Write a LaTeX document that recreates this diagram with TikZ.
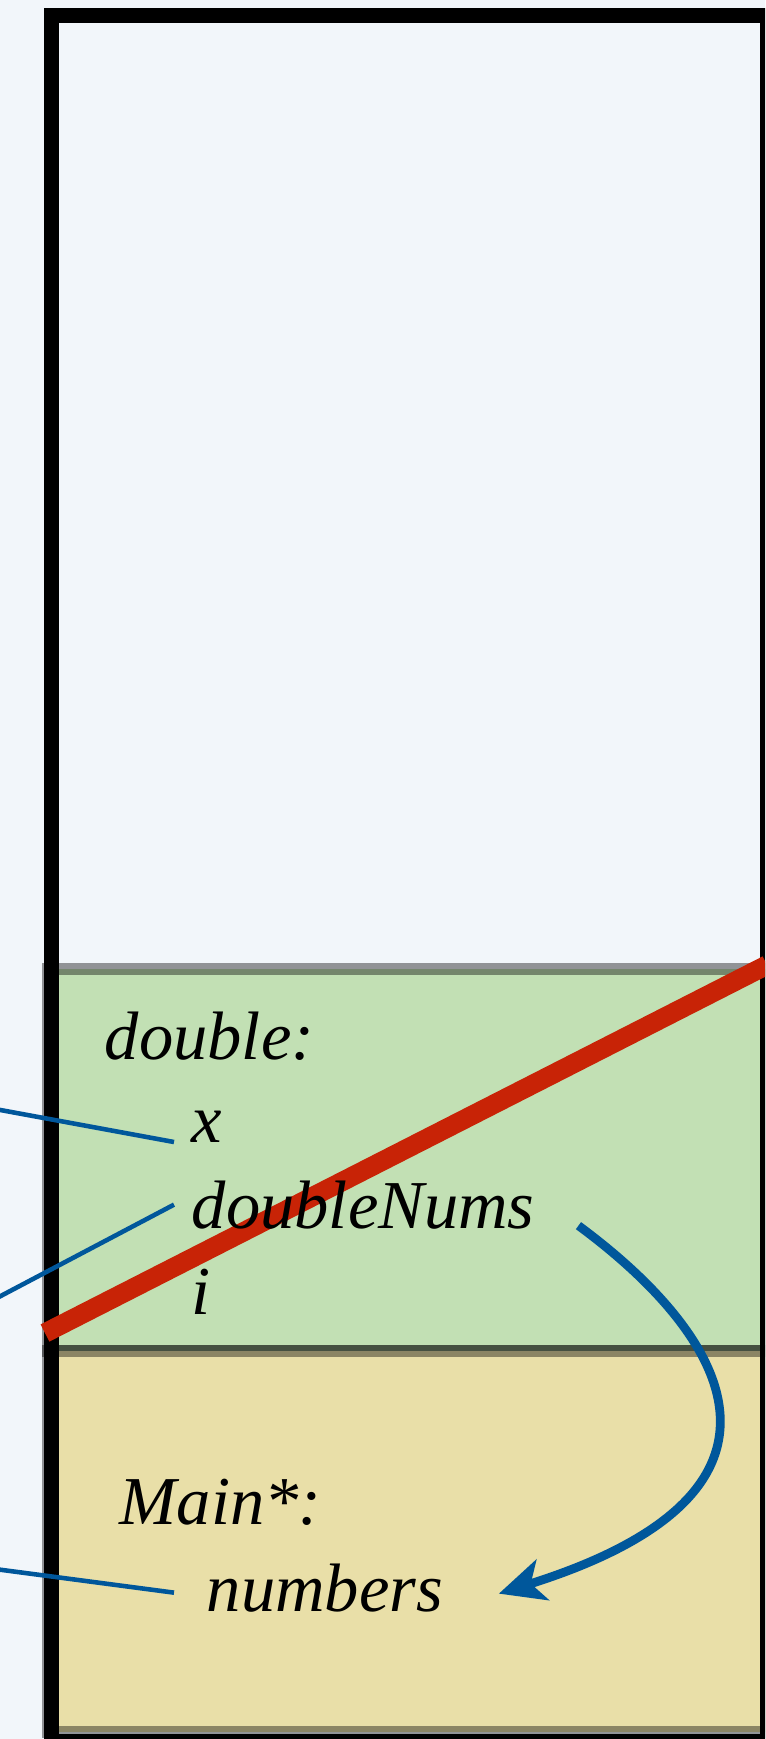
\documentclass[tikz,border=0pt]{standalone}
\usepackage{fontspec}
\setmainfont{Liberation Serif}
\usetikzlibrary{arrows.meta,calc}
\definecolor{stackbg}{HTML}{F2F6FA}
\definecolor{framegreen}{HTML}{C2E0B4}
\definecolor{frameyellow}{HTML}{E9DFA8}
\definecolor{popred}{HTML}{C82306}
\definecolor{refblue}{HTML}{00579B}
\tikzset{
  stackframe/.style={draw=black, line width=8pt},
  framebox/.style={draw=black, draw opacity=0.4, line width=6.5pt},
  varlabel/.style={font=\fontsize{39}{47}\selectfont\itshape, inner sep=10pt, anchor=base west},
  refline/.style={draw=refblue, line width=2.6pt},
  popline/.style={draw=popred, line width=11pt},
  copyedge/.style={-{Stealth[length=26pt, width=24pt, inset=7pt]}, draw=refblue, line width=5pt}
}
\begin{document}
\begin{tikzpicture}[x=0.02cm, y=-0.02cm]
  \useasboundingbox (0,0) rectangle (765,1739);
  \clip (0,0) rectangle (765,1739);
  \fill[stackbg] (0,0) rectangle (765,1739);
  % stack frames
  \draw[framebox, fill=framegreen] (48,969) rectangle (767,1351);
  \draw[framebox, fill=frameyellow] (48,1351) rectangle (767,1732);
  \draw[stackframe] (51.5,15.5) rectangle (767,1741);
  % the popped frame
  \coordinate (popstart) at (45,1333);
  \coordinate (popend) at (767,965);
  \draw[popline] (popstart) -- (popend);
  % variables
  \node[varlabel] (dbl) at (87,1059) {double:};
  \node[varlabel] (x) at (174,1142) {x};
  \node[varlabel] (dnums) at (174,1228) {doubleNums};
  \node[varlabel] (i) at (174,1314) {i};
  \node[varlabel] (mainlbl) at (102,1524) {Main*:};
  \node[varlabel] (numbers) at (189,1611) {numbers};
  % references coming in from the left
  \coordinate (xref) at (-5,1109);
  \coordinate (dnumsref) at (-5,1299);
  \coordinate (numref) at (-5,1569);
  \draw[refline] (xref) -- (x.base west);
  \draw[refline] (dnumsref) -- (dnums.west);
  \draw[refline] (numref) -- ([shift={(-15,5)}]numbers.west);
  \draw[copyedge] ([shift={(26,21)}]dnums.east) .. controls (720,1330) and (830,1490) .. ([shift={(38,6)}]numbers.east);
\end{tikzpicture}
\end{document}
